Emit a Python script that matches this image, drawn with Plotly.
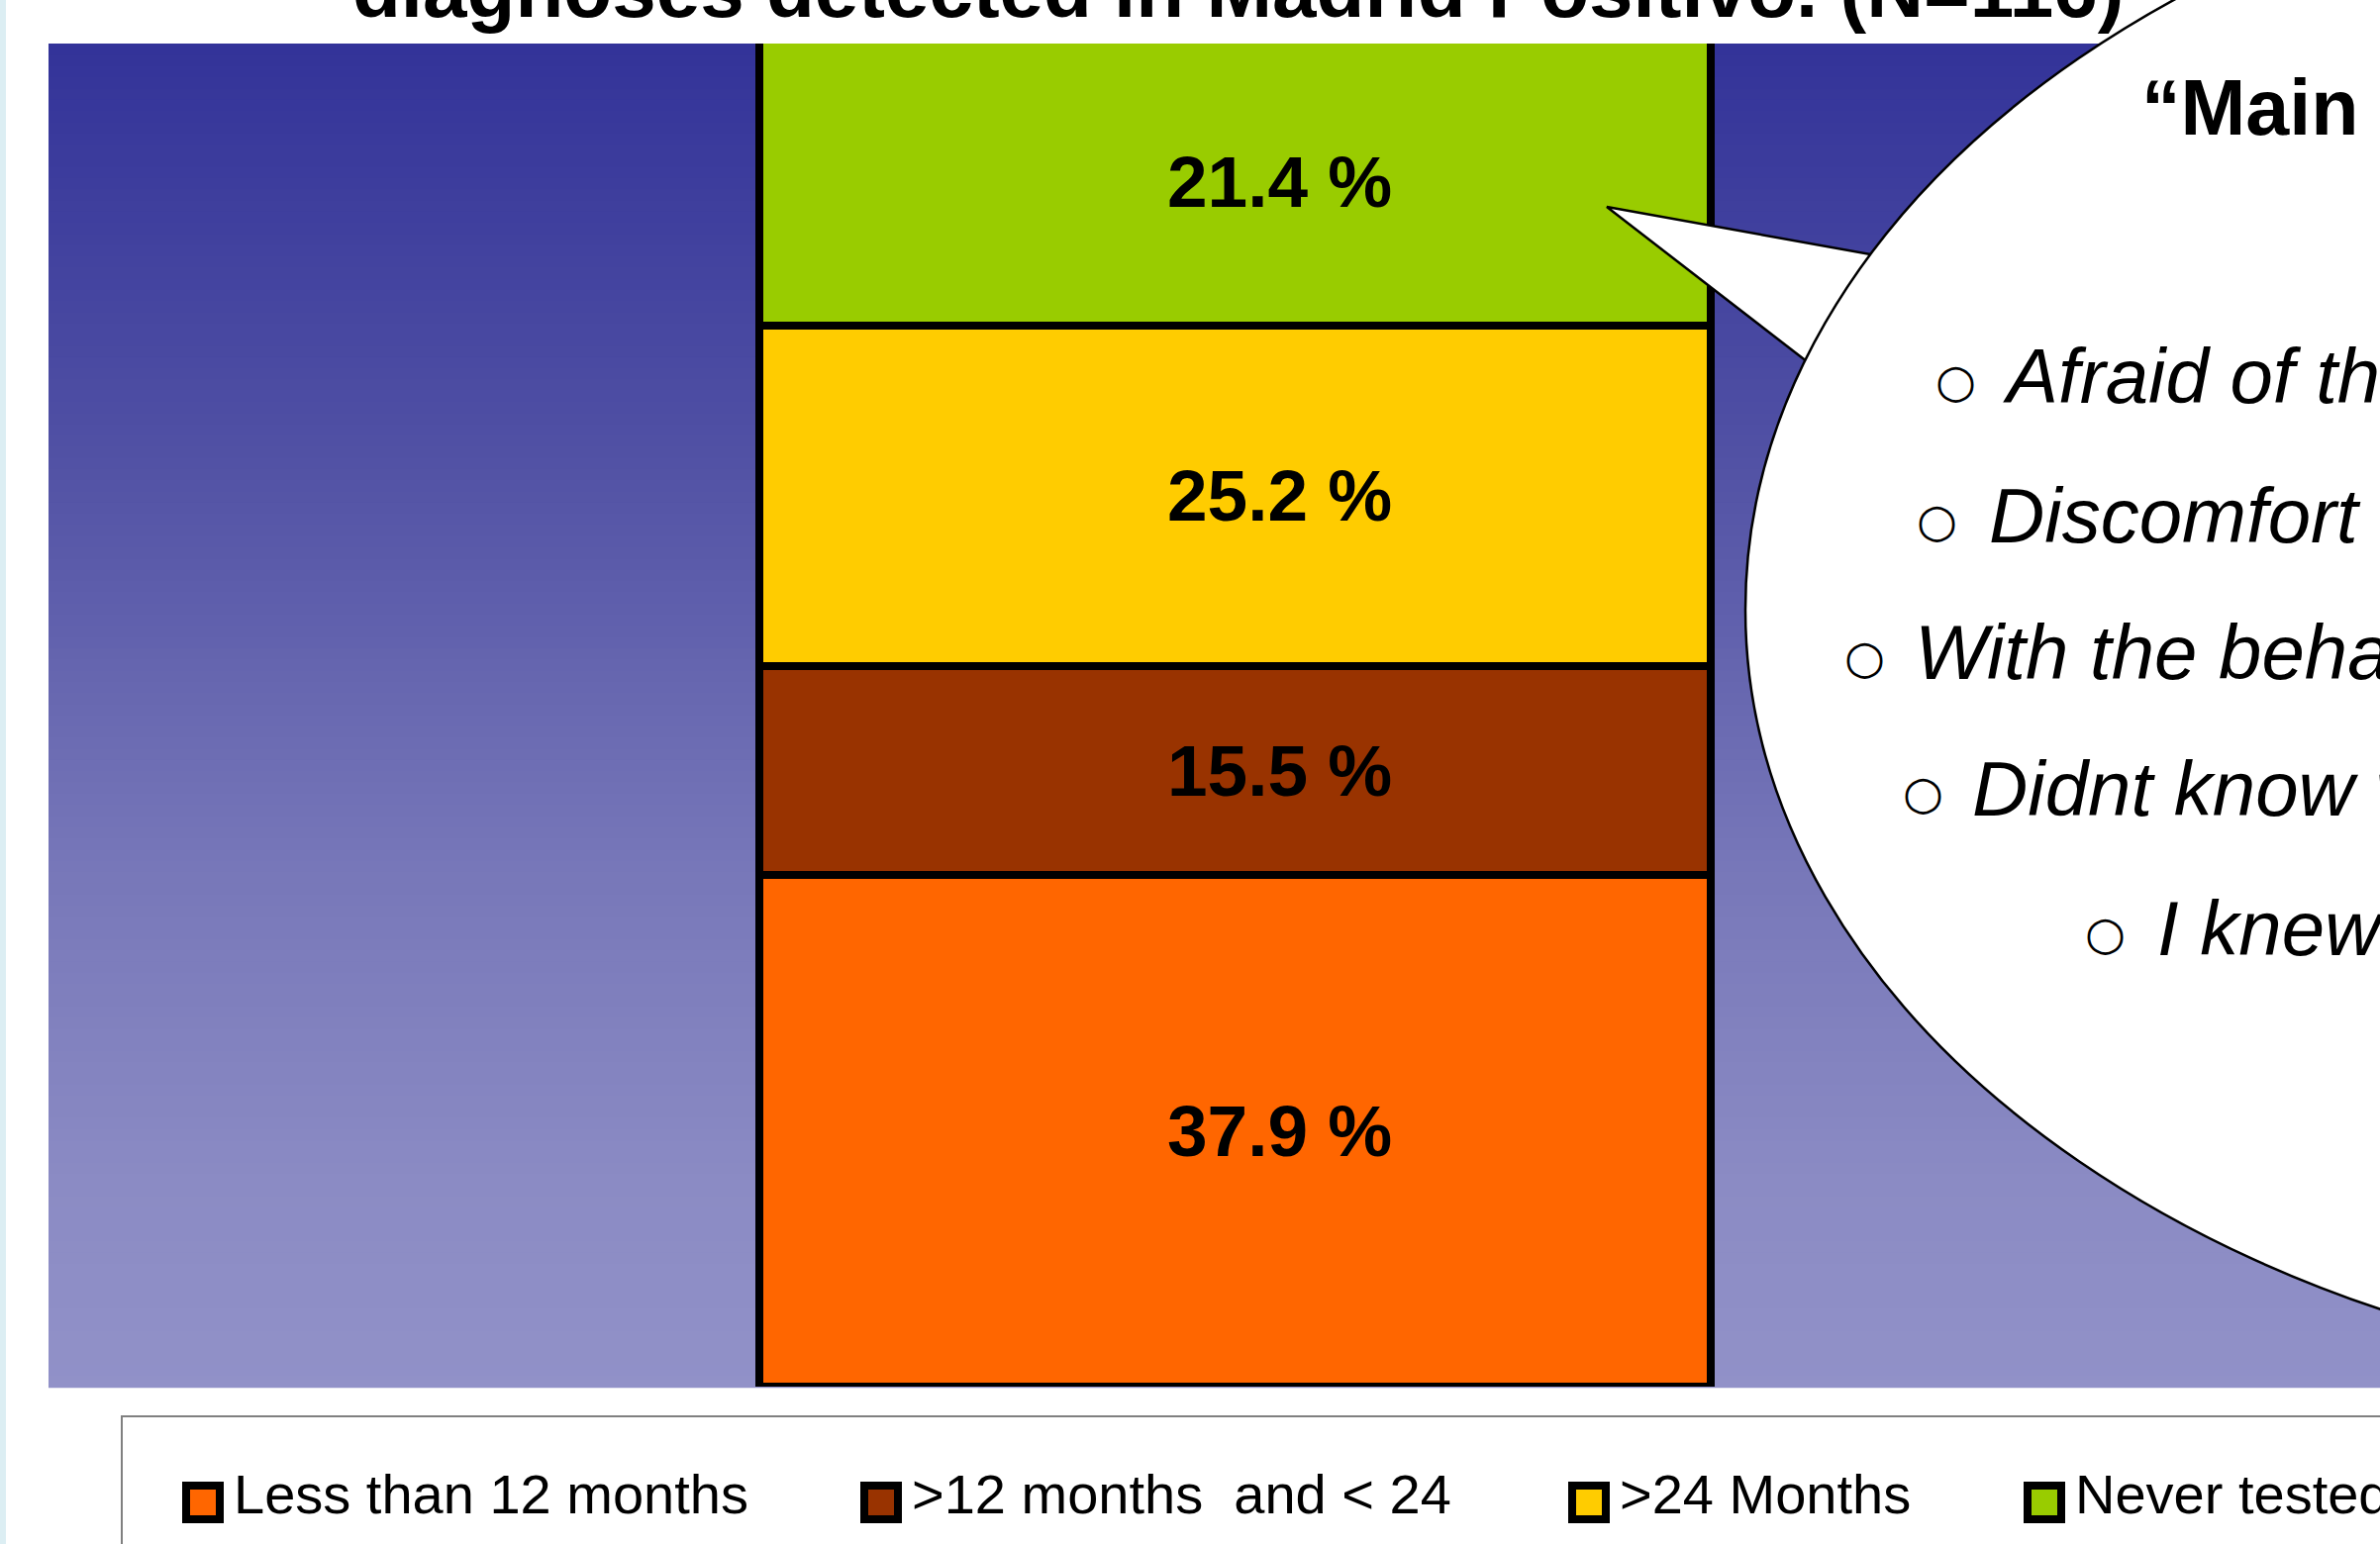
import plotly.graph_objects as go

# ---------------- data ----------------
category = ["Madrid Positivo"]
series_names = ["Less than 12 months", ">12 months  and < 24", ">24 Months", "Never tested"]
series_values = [37.9, 15.5, 25.2, 21.4]
value_labels = ["37.9 %", "15.5 %", "25.2 %", "21.4 %"]

title_text = "diagnoses detected in Madrid Positivo. (N=116)"
bubble_title = "\u201cMain reasons for not testing\u201d"
bubble_items = [
    "Afraid of the result",
    "Discomfort with the test",
    "With the behaviour I had, I did not feel at risk",
    "Didnt know where to go",
    "I knew I was negative",
]

# ---------------- style ----------------
series_colors = ["#FF6600", "#993300", "#FFCC00", "#99CC00"]
FIG_W, FIG_H = 2404, 1560
L, T, R, B = 49, 44, 2404, 1401          # plot area in pixels
W, H = R - L, B - T
FONT = "Liberation Sans, Arial, sans-serif"


def px(x):
    return (x - L) / W


def py(y):
    return (B - y) / H


fig = go.Figure()
for name, val, col in zip(series_names, series_values, series_colors):
    fig.add_trace(go.Bar(
        x=category, y=[val], name=name,
        marker=dict(color=col, line=dict(color="black", width=8)),
        hoverinfo="skip",
    ))

shapes = []
# vertical gradient background of the plot area
stops = [(0.0, (51, 51, 153)), (0.3, (80, 80, 164)), (0.6, (118, 118, 184)),
         (0.85, (139, 139, 196)), (1.0, (145, 145, 200))]
N = 120
for i in range(N):
    t = (i + 0.5) / N
    for (t0, c0), (t1, c1) in zip(stops[:-1], stops[1:]):
        if t0 <= t <= t1:
            f = (t - t0) / (t1 - t0)
            c = tuple(round(a + (b - a) * f) for a, b in zip(c0, c1))
            break
    shapes.append(dict(type="rect", xref="paper", yref="paper", layer="below",
                       x0=0, x1=1, y0=1 - (i + 1) / N - 0.001, y1=1 - i / N,
                       fillcolor="rgb(%d,%d,%d)" % c, line=dict(width=0)))
# thin light strip on the far left
shapes.append(dict(type="rect", xref="paper", yref="paper", layer="below",
                   x0=px(0), x1=px(6), y0=py(1600), y1=py(-40),
                   fillcolor="#DCEEF3", line=dict(width=0)))

# legend box
shapes.append(dict(type="rect", xref="paper", yref="paper", layer="above",
                   x0=px(123), x1=px(2700), y0=py(1700), y1=py(1431),
                   fillcolor="white", line=dict(color="#808080", width=2)))
legend_x = [184, 869, 1584, 2044]
annotations = []
for lx, name, col in zip(legend_x, series_names, series_colors):
    shapes.append(dict(type="rect", xref="paper", yref="paper", layer="above",
                       x0=px(lx + 4), x1=px(lx + 38), y0=py(1535), y1=py(1501),
                       fillcolor=col, line=dict(color="black", width=8)))
    label = name.replace("<", "&lt;").replace(">", "&gt;").replace("  ", "\u00a0 ")
    annotations.append(dict(xref="paper", yref="paper", x=px(lx + 51), y=py(1509),
                            xanchor="left", yanchor="middle", showarrow=False,
                            borderpad=0, text=label,
                            font=dict(family=FONT, size=56, color="black")))

# callout tail and ellipse bubble
tip = (1623, 209)
b1 = (1967, 271)
b2 = (1883, 410)
shapes.append(dict(type="path", xref="paper", yref="paper", layer="above",
                   path="M %f %f L %f %f L %f %f Z" % (px(tip[0]), py(tip[1]), px(b1[0]), py(b1[1]),
                                                       px(b2[0]), py(b2[1])),
                   fillcolor="white", line=dict(color="black", width=2.5)))
shapes.append(dict(type="circle", xref="paper", yref="paper", layer="above",
                   x0=px(1763), x1=px(4063), y0=py(1404), y1=py(-172),
                   fillcolor="white", line=dict(color="black", width=2.5)))

# title (only its second line is inside the page)
annotations.append(dict(xref="paper", yref="paper", x=px(1250), y=py(-11),
                        xanchor="center", yanchor="middle", showarrow=False, borderpad=0,
                        text="<b>%s</b>" % title_text,
                        font=dict(family=FONT, size=80, color="black")))

# value labels inside the bar segments
base = 0.0
for val, lab in zip(series_values, value_labels):
    annotations.append(dict(xref="x", yref="y", x=category[0], y=base + val / 2,
                            xshift=45, xanchor="center", yanchor="middle",
                            showarrow=False, borderpad=0, text="<b>%s</b>" % lab,
                            font=dict(family=FONT, size=73, color="black")))
    base += val

# bubble text
annotations.append(dict(xref="paper", yref="paper", x=px(2162), y=py(109),
                        xanchor="left", yanchor="middle", showarrow=False, borderpad=0,
                        text="<b>%s</b>" % bubble_title,
                        font=dict(family=FONT, size=79, color="black")))
bullet_cx = [1975, 1956, 1883, 1942, 2126]
text_x = [2022, 2008, 1933, 1991, 2178]
row_y = [380, 521, 659, 797, 938]
for bx, tx, ry, item in zip(bullet_cx, text_x, row_y, bubble_items):
    annotations.append(dict(xref="paper", yref="paper", x=px(bx), y=py(ry + 4),
                            xanchor="center", yanchor="middle", showarrow=False, borderpad=0,
                            text="\u25cb",
                            font=dict(family="DejaVu Sans", size=47, color="black")))
    annotations.append(dict(xref="paper", yref="paper", x=px(tx), y=py(ry),
                            xanchor="left", yanchor="middle", showarrow=False, borderpad=0,
                            text="<i>%s</i>" % item,
                            font=dict(family=FONT, size=78, color="black")))

fig.update_layout(
    width=FIG_W, height=FIG_H, autosize=False,
    margin=dict(l=L, r=FIG_W - R, t=T, b=FIG_H - B, pad=0),
    barmode="stack", bargap=0.5919,
    showlegend=False,
    paper_bgcolor="white", plot_bgcolor="rgba(0,0,0,0)",
    xaxis=dict(range=[-0.5089, 0.4911], showticklabels=False, showgrid=False,
               zeroline=False, showline=False, ticks=""),
    yaxis=dict(range=[0, 99.5], showticklabels=False, showgrid=False,
               zeroline=False, showline=False, ticks=""),
    shapes=shapes, annotations=annotations,
)

fig.write_html("out.html")
